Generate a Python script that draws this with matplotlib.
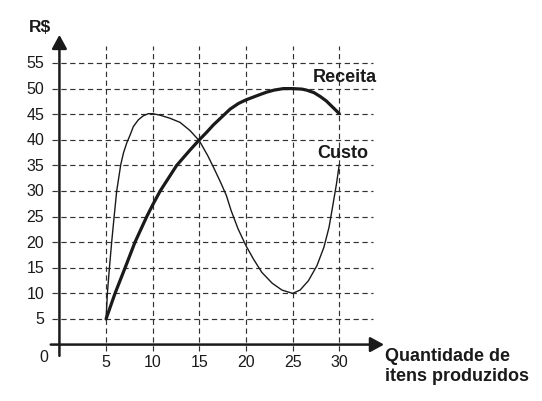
import matplotlib
matplotlib.use("Agg")
import matplotlib.pyplot as plt

# ---- data ----
receita_x = [5, 5.96, 7.04, 8.1, 9.36, 10, 10.8, 12.57, 14, 15, 15.8, 16.5, 17.2, 18.3, 19.2, 20, 21.3, 22.2,
             23, 24, 25, 26, 26.5, 27.3, 28, 28.6, 29.05, 29.5, 30]
receita_y = [5, 10, 15, 20, 25, 27.3, 30, 35, 38.0, 40, 41.5, 42.9, 44.1, 46.0, 47.1, 47.8, 48.7, 49.3,
             49.7, 50, 50, 49.9, 49.7, 49.2, 48.4, 47.6, 46.8, 46.0, 45.1]

custo_x = [5, 5.14, 5.36, 5.6, 5.86, 6.14, 6.57, 6.86, 7.2, 7.57, 7.93, 8.46, 9.0, 9.54, 10, 10.8, 11.86, 12.93,
           14, 15, 15.9, 16.6, 17.35, 17.9, 18.4, 19.15, 20, 20.8, 21.7, 22.8, 23.85, 25, 25.8, 26.7, 27.6,
           28.35, 28.9, 29.3, 29.7, 30]
custo_y = [5, 10, 15, 20, 24.9, 30, 35.1, 37.4, 39.3, 40.9, 42.6, 43.9, 44.7, 45.1, 45.1, 44.8, 44.2, 43.4,
           41.8, 39.8, 36.9, 34.3, 31.4, 29.1, 26.2, 22.6, 19.3, 16.7, 14.1, 12, 10.65, 10, 10.65, 12.5, 15.4,
           19, 22.9, 27.1, 31.4, 35.2]

x_ticks = [5, 10, 15, 20, 25, 30]
y_ticks = [5, 10, 15, 20, 25, 30, 35, 40, 45, 50, 55]
x_tick_labels = ["5", "10", "15", "20", "25", "30"]
y_tick_labels = ["5", "10", "15", "20", "25", "30", "35", "40", "45", "50", "55"]

plt.rcParams['font.family'] = ['Liberation Sans', 'DejaVu Sans']

fig = plt.figure(figsize=(5.42, 4.02), dpi=100)
ax = fig.add_axes([0, 0, 1, 1])
ax.set_xlim(-6.37, 51.73)
ax.set_ylim(-11.02, 67.5)
ax.axis('off')

dash = (0, (4.5, 3))
gcol = '#333333'
# grid
ax.hlines(y_ticks, -0.76, 33.6, colors=gcol, linestyles=dash, linewidth=0.85, zorder=1)
ax.vlines(x_ticks, -1.2, 58.3, colors=gcol, linestyles=dash, linewidth=0.85, zorder=1)

# curves
ax.plot(custo_x, custo_y, color='#1a1a1a', lw=1.0, zorder=3, solid_capstyle='round', solid_joinstyle='round')
ax.plot(receita_x, receita_y, color='#1a1a1a', lw=2.3, zorder=4, solid_capstyle='round', solid_joinstyle='round')

# axes with arrows
ap = dict(arrowstyle='-|>,head_length=0.55,head_width=0.3', mutation_scale=15,
          lw=1.8, color='#1a1a1a', shrinkA=0, shrinkB=0)
ax.annotate('', xy=(34.8, 0), xytext=(-0.93, 0), arrowprops=ap, zorder=5)
ax.annotate('', xy=(0, 60.5), xytext=(0, -2.2), arrowprops=ap, zorder=5)

# tick labels
for v, t in zip(y_ticks, y_tick_labels):
    ax.text(-1.65, v, t, ha='right', va='center', fontsize=11.5, color='#1a1a1a')
for v, t in zip(x_ticks, x_tick_labels):
    ax.text(v, -3.4, t, ha='center', va='center', fontsize=11.5, color='#1a1a1a')
ax.text(-1.2, -2.3, "0", ha='right', va='center', fontsize=11.5, color='#1a1a1a')

# labels
ax.text(-2.1, 62.1, "R$", ha='center', va='center', fontsize=12.5, fontweight='bold', color='#1a1a1a')
ax.text(30.6, 52.4, "Receita", ha='center', va='center', fontsize=13, fontweight='bold', color='#1a1a1a')
ax.text(30.4, 37.6, "Custo", ha='center', va='center', fontsize=13, fontweight='bold', color='#1a1a1a')
ax.text(34.9, -0.5, "Quantidade de\nitens produzidos", ha='left', va='top', fontsize=13,
        fontweight='bold', color='#1a1a1a', linespacing=1.25)

fig.savefig("out.png", dpi=100)
